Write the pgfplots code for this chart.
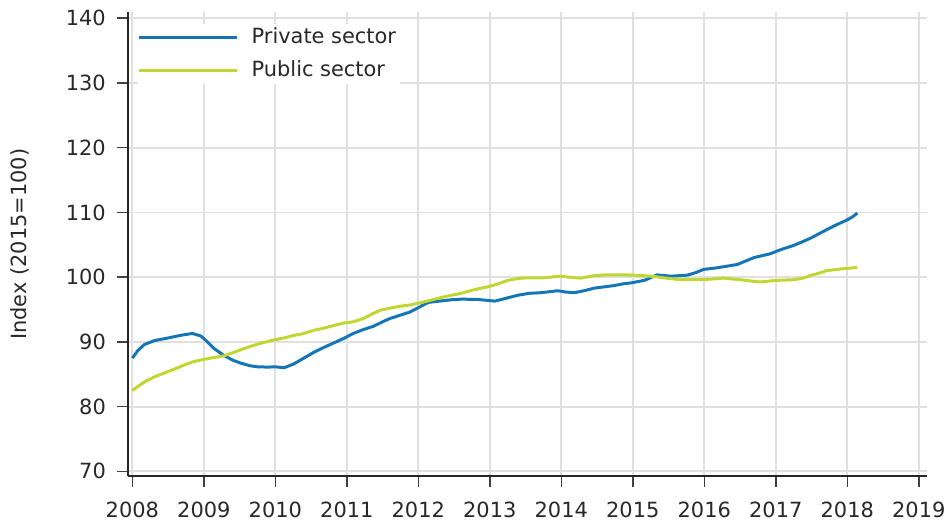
\documentclass[border=0pt]{standalone}
\usepackage{pgfplots}
\pgfplotsset{compat=1.18}
\usepackage{fontspec}
\setmainfont{DejaVu Sans}
\definecolor{privblue}{RGB}{20,118,182}
\definecolor{pubgreen}{RGB}{192,214,50}
\definecolor{gridgray}{RGB}{224,224,224}
\definecolor{txt}{RGB}{40,40,40}
\begin{document}
\begin{tikzpicture}[font=\fontsize{10.5}{12.6}\selectfont]
\begin{axis}[
  name=ax,
  scale only axis,
  width=401.35pt, height=232.85pt,
  xmin=2007.936, xmax=2019.116,
  ymin=69.28, ymax=140.92,
  xtick={2008,2009,...,2019},
  ytick={70,80,...,140},
  xticklabel style={/pgf/number format/1000 sep={}, yshift=-3.8pt},
  yticklabel style={xshift=-2pt},
  /pgf/number format/assume math mode=true,
  tick label style={font=\fontsize{10.5}{12.6}\selectfont, text=txt},
  axis x line*=bottom, axis y line*=left,
  axis line style={-, black!85, line width=0.75pt},
  tick align=outside,
  major tick length=5.5pt,
  tick style={black!75, line width=0.75pt},
  grid=major,
  major grid style={gridgray, line width=0.9pt},
  ylabel={Index (2015=100)},
  every axis y label/.style={at={([xshift=-54pt]axis description cs:0,0.5)}, rotate=90, anchor=center, text=txt},
  legend cell align=left,
  legend image code/.code={\draw[#1] (0pt,0pt) -- (49pt,0pt);},
  legend style={at={([xshift=4.7pt,yshift=-5.5pt]rel axis cs:0,1)}, anchor=north west,
    draw=none, fill=white, inner xsep=0pt, inner ysep=0pt,
    nodes={inner sep=2pt, text=txt}, row sep=3.3pt,
    /tikz/every odd column/.append style={column sep=4.8pt},
    /tikz/every even column/.append style={column sep=8pt},
    font=\fontsize{10.5}{12.6}\selectfont},
]
\addplot[privblue, line width=1.5pt, line join=round] coordinates {
(2008.00,87.5)(2008.08,88.7)(2008.17,89.6)(2008.31,90.2)(2008.50,90.6)(2008.67,91.0)
(2008.84,91.3)(2008.96,90.9)(2009.05,90.0)(2009.14,89.0)(2009.28,87.9)(2009.40,87.2)
(2009.52,86.7)(2009.65,86.3)(2009.75,86.15)(2009.90,86.1)(2010.00,86.15)(2010.12,86.0)
(2010.26,86.6)(2010.40,87.5)(2010.54,88.4)(2010.67,89.1)(2010.81,89.8)(2010.95,90.5)
(2011.09,91.3)(2011.23,91.9)(2011.37,92.4)(2011.50,93.1)(2011.60,93.6)(2011.74,94.1)
(2011.88,94.6)(2012.02,95.4)(2012.14,96.1)(2012.30,96.3)(2012.46,96.5)(2012.60,96.6)
(2012.83,96.55)(2013.07,96.3)(2013.25,96.8)(2013.39,97.2)(2013.55,97.5)(2013.72,97.6)
(2013.95,97.9)(2014.06,97.7)(2014.18,97.6)(2014.32,97.9)(2014.46,98.3)(2014.60,98.5)
(2014.74,98.7)(2014.88,99.0)(2014.97,99.1)(2015.16,99.5)(2015.34,100.35)(2015.53,100.15)
(2015.76,100.3)(2015.88,100.7)(2015.99,101.2)(2016.15,101.4)(2016.32,101.7)(2016.46,101.95)
(2016.58,102.5)(2016.69,103.0)(2016.80,103.3)(2016.92,103.6)(2017.01,104.0)(2017.11,104.4)
(2017.25,104.9)(2017.38,105.5)(2017.50,106.1)(2017.62,106.8)(2017.74,107.5)(2017.85,108.1)
(2017.99,108.8)(2018.07,109.3)(2018.14,109.9)
};
\addlegendentry{Private sector}
\addplot[pubgreen, line width=1.5pt, line join=round] coordinates {
(2008.00,82.5)(2008.10,83.3)(2008.20,84.0)(2008.31,84.6)(2008.45,85.2)(2008.59,85.8)
(2008.72,86.4)(2008.84,86.9)(2008.96,87.2)(2009.10,87.5)(2009.28,87.85)(2009.40,88.3)
(2009.52,88.8)(2009.65,89.3)(2009.80,89.8)(2009.98,90.3)(2010.12,90.6)(2010.26,91.0)
(2010.40,91.3)(2010.54,91.8)(2010.67,92.1)(2010.81,92.5)(2010.95,92.9)(2011.09,93.1)
(2011.23,93.6)(2011.35,94.3)(2011.47,94.9)(2011.60,95.2)(2011.74,95.5)(2011.88,95.7)
(2011.97,95.9)(2012.16,96.4)(2012.30,96.8)(2012.46,97.2)(2012.60,97.5)(2012.74,97.95)
(2012.88,98.3)(2012.97,98.5)(2013.10,98.9)(2013.25,99.5)(2013.40,99.8)(2013.53,99.9)
(2013.76,99.9)(2013.99,100.15)(2014.10,100.0)(2014.27,99.85)(2014.45,100.2)(2014.60,100.35)
(2014.92,100.35)(2015.10,100.25)(2015.30,100.1)(2015.50,99.8)(2015.67,99.6)(2015.94,99.6)
(2016.10,99.7)(2016.27,99.85)(2016.50,99.6)(2016.65,99.4)(2016.78,99.25)(2017.01,99.5)
(2017.25,99.6)(2017.40,99.9)(2017.48,100.25)(2017.60,100.6)(2017.71,101.0)(2017.94,101.3)
(2018.14,101.5)
};
\addlegendentry{Public sector}
\end{axis}
\path (ax.south west) ++(-64.15pt,-25pt) rectangle ++(476pt,264pt);
\end{tikzpicture}
\end{document}
